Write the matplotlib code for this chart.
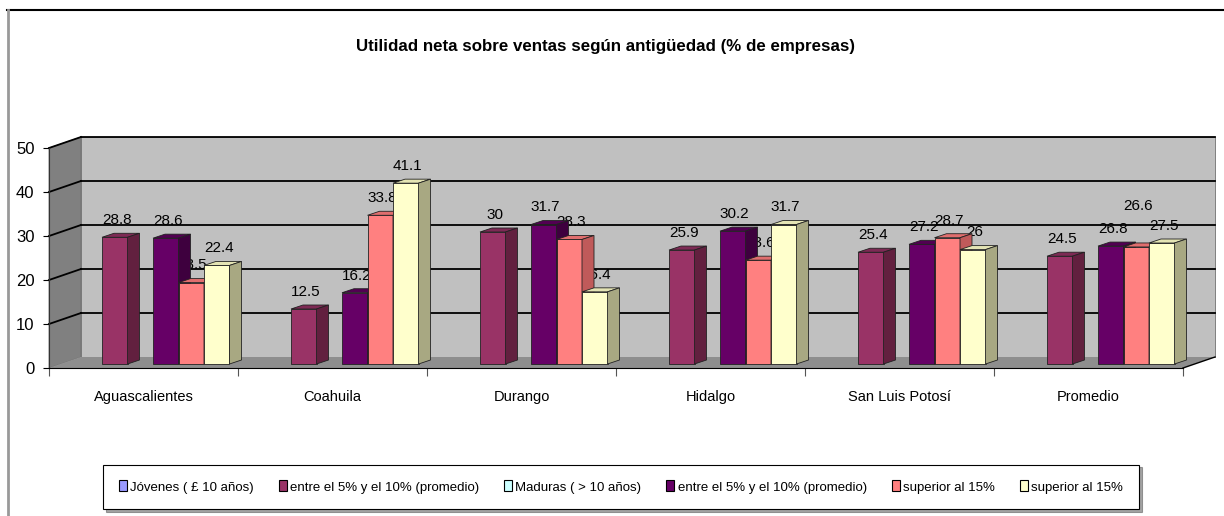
import numpy as np
import matplotlib
matplotlib.use('Agg')
import matplotlib.pyplot as plt
from matplotlib.patches import Polygon, Rectangle, Patch
from matplotlib.lines import Line2D


categories = ['Aguascalientes', 'Coahuila', 'Durango', 'Hidalgo',
              'San Luis Potosí', 'Promedio']
legend_labels = ['Jóvenes ( £ 10 años)', 'entre el 5% y el 10% (promedio)',
                 'Maduras ( > 10 años)', 'entre el 5% y el 10% (promedio)',
                 'superior al 15%', 'superior al 15%']
# the two group headers (Jóvenes / Maduras) carry no bars
jovenes_5_10 = [28.8, 12.5, 30, 25.9, 25.4, 24.5]
maduras_5_10 = [28.6, 16.2, 31.7, 30.2, 27.2, 26.8]
maduras_sup15_a = [18.5, 33.8, 28.3, 23.6, 28.7, 26.6]
maduras_sup15_b = [22.4, 41.1, 16.4, 31.7, 26, 27.5]
y_ticks = [0, 10, 20, 30, 40, 50]

series = [None, jovenes_5_10, None, maduras_5_10, maduras_sup15_a, maduras_sup15_b]
# (front, top, side)
shades = [('#9999FF',) * 3,
          ('#993366', '#7D2A54', '#62203F'),
          ('#CCFFFF',) * 3,
          ('#660066', '#520052', '#3E003E'),
          ('#FF8080', '#E06E6E', '#C05A5A'),
          ('#FFFFCC', '#E4E4B4', '#A8A882')]

plt.rcParams['font.family'] = ['Liberation Sans', 'DejaVu Sans']

W, H = 1224, 516
PX_X = 189.0          # pixels per category
PX_Y = 4.4            # pixels per percentage point
WX, WY = 32 / PX_X, 11 / PX_Y      # wall depth
BX, BY = 12 / PX_X, 4 / PX_Y       # bar depth
BW = 25.5 / PX_X                   # bar width
SLOT0 = 27.5 / PX_X
Y0 = 4 / PX_Y                      # bars sit a bit behind the front edge

fig = plt.figure(figsize=(W / 100, H / 100), dpi=100)
ax = fig.add_axes([49 / W, (H - 368) / H, 6 * PX_X / W, 50 * PX_Y / H])
ax.set_xlim(0, 6)
ax.set_ylim(0, 50)
ax.patch.set_visible(False)

n = len(categories)

# walls and floor
ax.add_patch(Polygon([(WX, WY), (n + WX, WY), (n + WX, 50 + WY), (WX, 50 + WY)],
                     closed=True, fc='#C0C0C0', ec='#707070', lw=0.6,
                     zorder=0.5, clip_on=False))
ax.add_patch(Polygon([(0, 0), (WX, WY), (WX, 50 + WY), (0, 50)], closed=True,
                     fc='#808080', ec='#707070', lw=0.6, zorder=0.5, clip_on=False))
ax.add_patch(Polygon([(0, 0), (n, 0), (n + WX, WY), (WX, WY)], closed=True,
                     fc='#8E8E8E', ec='none', zorder=0.5, clip_on=False))
for v in y_ticks[1:]:
    ax.plot([WX, n + WX], [v + WY, v + WY], color='black', lw=1.3,
            zorder=1, clip_on=False)
    ax.plot([0, WX], [v, v + WY], color='black', lw=1.3, zorder=1, clip_on=False)
ax.plot([n, n + WX], [0, WY], color='black', lw=1.0, zorder=1, clip_on=False)

# label tweaks (one label was moved by hand in the original)
label_nudge = {(5, 4): 5.5}

for i in range(n):
    for j, vals in enumerate(series):
        if vals is None:
            continue
        v = vals[i]
        front, top, side = shades[j]
        x = i + SLOT0 + j * BW
        ax.add_patch(Rectangle((x, Y0), BW, v, fc=front, ec='#222222', lw=0.6,
                               zorder=3, clip_on=False))
        ax.add_patch(Polygon([(x, Y0 + v), (x + BW, Y0 + v),
                              (x + BW + BX, Y0 + v + BY), (x + BX, Y0 + v + BY)],
                             closed=True, fc=top, ec='#222222', lw=0.6,
                             zorder=3, clip_on=False))
        ax.add_patch(Polygon([(x + BW, Y0), (x + BW + BX, Y0 + BY),
                              (x + BW + BX, Y0 + v + BY), (x + BW, Y0 + v)],
                             closed=True, fc=side, ec='#222222', lw=0.6,
                             zorder=3, clip_on=False))
        ty = Y0 + v + 3.9 + label_nudge.get((i, j), 0)
        ax.text(x + BW / 2 + 0.01, ty, f'{v:g}', ha='center', va='center',
                fontsize=11, zorder=2, clip_on=False)

# axes
for s in ['top', 'right']:
    ax.spines[s].set_visible(False)
ax.spines['left'].set_color('#333333')
ax.spines['bottom'].set_color('black')
ax.set_yticks(y_ticks)
ax.tick_params(axis='y', length=4.5, width=0.8, pad=6, labelsize=12)
ax.set_xticks(np.arange(n + 1))
ax.set_xticklabels([])
ax.tick_params(axis='x', which='major', length=5.5, width=0.8, color='#555555')
ax.set_xticks(np.arange(n) + 0.5, minor=True)
ax.set_xticklabels(categories, minor=True)
ax.tick_params(axis='x', which='minor', length=0, pad=16, labelsize=10.5)

fig.text(606 / W, 1 - 47 / H,
         'Utilidad neta sobre ventas según antigüedad (% de empresas)',
         ha='center', va='center', fontsize=12.2, fontweight='bold')

# outer frame
fig.add_artist(Line2D([7 / W, 1], [1 - 10 / H, 1 - 10 / H], color='black', lw=1.5))
fig.add_artist(Line2D([8 / W, 8 / W], [0, 1 - 10 / H], color='#999999', lw=2))

handles = [Patch(fc=shades[j][0], ec='black', lw=0.8) for j in range(len(series))]
leg = fig.legend(handles, legend_labels, ncol=6, loc='center',
                 bbox_to_anchor=(621 / W, 1 - 487 / H), fontsize=9.5,
                 frameon=True, fancybox=False, shadow=True, edgecolor='black',
                 handlelength=0.6, handleheight=0.9, handletextpad=0.25,
                 columnspacing=1.9, borderpad=1.2)
leg.get_frame().set_linewidth(0.8)

fig.savefig('out.png', dpi=100, facecolor='white')
